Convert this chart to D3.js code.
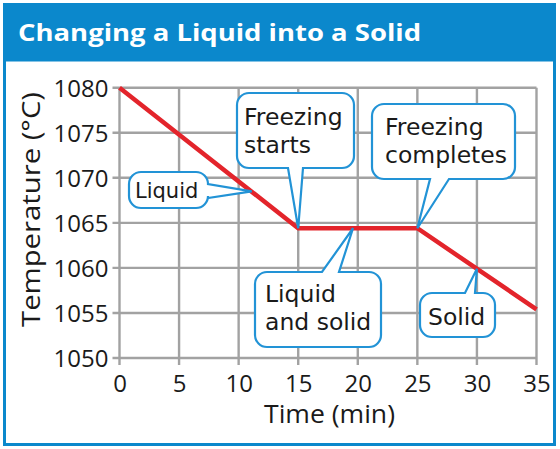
<!DOCTYPE html>
<html><head><meta charset="utf-8">
<script src="https://cdn.jsdelivr.net/npm/d3@7"></script>
<style>
html,body{margin:0;padding:0;background:#fff;}
svg{display:block;}
text{font-family:"Open Sans",Lato,sans-serif;}
</style></head>
<body>
<script>
// ---- data ----
const times = [0, 15, 25, 35];
const temps = [1080, 1064.4, 1064.4, 1055.4];
const xTicks = [0, 5, 10, 15, 20, 25, 30, 35];
const yTicks = [1050, 1055, 1060, 1065, 1070, 1075, 1080];
const title = "Changing a Liquid into a Solid";
const xTitle = "Time (min)";
const yTitle = "Temperature (°C)";
const noteLabels = [["Liquid"], ["Freezing", "starts"], ["Freezing", "completes"], ["Liquid", "and solid"], ["Solid"]];
const noteTimes = [11.1, 15, 25, 19.6, 30];
const noteTemps = [1068.5, 1064.4, 1064.4, 1064.4, 1059.9];

// ---- layout ----
const W = 560, H = 449;
const boxes = [
  {x0:129, y0:172, x1:208, y1:208, side:"right", a:184, b:198, tx:135, ty:[198], fs:21},
  {x0:237, y0:93, x1:354, y1:168, side:"bottom", a:288, b:303, tx:244, ty:[125,153], fs:23.5},
  {x0:372, y0:104, x1:515, y1:179, side:"bottom", a:430, b:449, tx:385, ty:[135,163], fs:23.5},
  {x0:255, y0:272, x1:381, y1:347, side:"top", a:322, b:339, tx:265, ty:[302,330], fs:23.5},
  {x0:420, y0:293, x1:495, y1:337, side:"top", a:465, b:475, tx:428, ty:[325], fs:23.5}
];

const svg = d3.select("body").append("svg").attr("width", W).attr("height", H);
const blue = "#0b88cc";

// header
svg.append("rect").attr("x",4.5).attr("y",4.5).attr("width",550).attr("height",57).attr("fill",blue);
svg.append("rect").attr("x",4.5).attr("y",4.5).attr("width",550).attr("height",440)
  .attr("fill","none").attr("stroke",blue).attr("stroke-width",3);
svg.append("text").attr("x",18).attr("y",41).attr("fill","#fff")
  .attr("font-size",24).attr("font-weight",700)
  .attr("textLength",403).attr("lengthAdjust","spacingAndGlyphs").text(title);

const x = d3.scaleLinear().domain([0,35]).range([119.5,536.5]);
const y = d3.scaleLinear().domain([1050,1080]).range([358,87.7]);
const grey = "#a2a2a2";

// grid
const g = svg.append("g");
g.selectAll(".vg").data(xTicks).join("line")
  .attr("x1",d=>x(d)).attr("x2",d=>x(d)).attr("y1",y(1080)).attr("y2",y(1050)+7)
  .attr("stroke",grey).attr("stroke-width",2.4);
g.selectAll(".hg").data(yTicks).join("line")
  .attr("y1",d=>y(d)).attr("y2",d=>y(d)).attr("x1",x(0)-7).attr("x2",x(35))
  .attr("stroke",grey).attr("stroke-width",2.4);

// axes labels via d3 axis (text only)
const xAxis = svg.append("g").attr("transform",`translate(0,${y(1050)})`)
  .call(d3.axisBottom(x).tickValues(xTicks).tickSize(0).tickPadding(0).tickFormat(d3.format("d")));
xAxis.select(".domain").remove();
xAxis.selectAll("text").attr("font-size",24).attr("fill","#1a1a1a").attr("dy",null).attr("y",34);
const yAxis = svg.append("g").attr("transform",`translate(${x(0)},0)`)
  .call(d3.axisLeft(y).tickValues(yTicks).tickSize(0).tickPadding(0).tickFormat(d3.format("d")));
yAxis.select(".domain").remove();
yAxis.selectAll("text").attr("font-size",24).attr("fill","#1a1a1a").attr("x",-11).attr("dy","0.36em");

svg.append("text").attr("x",264).attr("y",423)
  .attr("font-size",25).attr("fill","#1a1a1a")
  .attr("textLength",131).attr("lengthAdjust","spacingAndGlyphs").text(xTitle);
svg.append("text").attr("transform","translate(40,327) rotate(-90)")
  .attr("font-size",26).attr("fill","#1a1a1a")
  .attr("textLength",235).attr("lengthAdjust","spacingAndGlyphs").text(yTitle);

// line
const pts = times.map((t,i)=>[t,temps[i]]);
svg.append("path").datum(pts)
  .attr("d", d3.line().x(d=>x(d[0])).y(d=>y(d[1])))
  .attr("fill","none").attr("stroke","#e3242b").attr("stroke-width",4.5).attr("stroke-linejoin","miter");

// callouts
function bubble(b, tip, r){
  const p = d3.path();
  const {x0,y0,x1,y1,side,a,b:bb} = b;
  p.moveTo(x0+r,y0);
  if(side==="top"){ p.lineTo(a,y0); p.lineTo(tip[0],tip[1]); p.lineTo(bb,y0); }
  p.lineTo(x1-r,y0); p.arcTo(x1,y0,x1,y0+r,r);
  if(side==="right"){ p.lineTo(x1,a); p.lineTo(tip[0],tip[1]); p.lineTo(x1,bb); }
  p.lineTo(x1,y1-r); p.arcTo(x1,y1,x1-r,y1,r);
  if(side==="bottom"){ p.lineTo(bb,y1); p.lineTo(tip[0],tip[1]); p.lineTo(a,y1); }
  p.lineTo(x0+r,y1); p.arcTo(x0,y1,x0,y1-r,r);
  p.lineTo(x0,y0+r); p.arcTo(x0,y0,x0+r,y0,r);
  p.closePath();
  return p.toString();
}
const notes = svg.append("g");
boxes.forEach((b,i)=>{
  const tip = [x(noteTimes[i]), y(noteTemps[i])];
  notes.append("path").attr("d", bubble(b, tip, 12))
    .attr("fill","#fff").attr("stroke","#2293d6").attr("stroke-width",2.2).attr("stroke-linejoin","miter");
  noteLabels[i].forEach((ln,j)=>{
    notes.append("text").attr("x",b.tx).attr("y",b.ty[j]).attr("font-size",b.fs)
      .style("font-family","'DejaVu Sans',sans-serif").attr("fill","#1a1a1a").text(ln);
  });
});
</script>
</body></html>
